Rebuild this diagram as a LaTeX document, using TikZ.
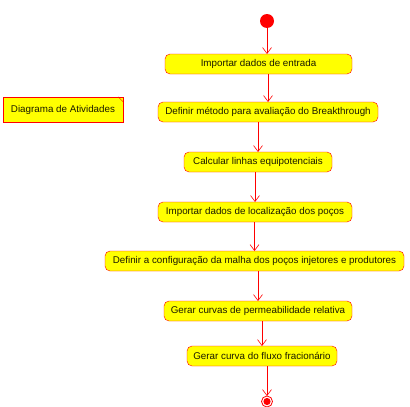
\documentclass[tikz,border=0pt]{standalone}
\usepackage{fontspec}
\setmainfont{Liberation Sans}
\usetikzlibrary{positioning,arrows.meta}
\definecolor{ActRed}{HTML}{FF0000}
\definecolor{ActYellow}{HTML}{FFFF00}
\definecolor{ActText}{HTML}{1A1A00}

\begin{document}
\begin{tikzpicture}[x=1pt,y=-1pt,
        act/.style={draw=ActRed,rounded corners=5pt,minimum height=20pt,inner sep=2pt,outer sep=0pt,
                    fill=ActYellow,text=ActText,font=\fontsize{9.8}{11}\selectfont},
        arr/.style={-{Straight Barb[length=6pt,width=9pt]},ActRed,line width=.6pt}
      ]
        \useasboundingbox (0,0) rectangle (410,407);
        \node[circle,fill=ActRed,inner sep=0pt,outer sep=0pt,minimum size=14pt] (start) at (267,21) {};
        \node[act,minimum width=187pt,below=26pt of start,xshift=-8.5pt] (entrada) {Importar dados de entrada};
        \node[act,minimum width=220pt,below=28pt of entrada,xshift=9.5pt] (metodo) {Definir método para avaliação do Breakthrough};
        \node[act,minimum width=148pt,below=30pt of metodo,xshift=-10pt] (linhas) {Calcular linhas equipotenciais};
        \node[act,minimum width=194pt,below=30pt of linhas,xshift=-3pt] (pocos) {Importar dados de localização dos poços};
        \node[act,minimum width=299pt,below=29pt of pocos,xshift=-.5pt] (malha) {Definir a configuração da malha dos poços injetores e produtores};
        \node[act,minimum width=188pt,below=30pt of malha,xshift=3.5pt] (permeab) {Gerar curvas de permeabilidade relativa};
        \node[act,minimum width=150pt,below=25pt of permeab,xshift=4pt] (fluxo) {Gerar curva do fluxo fracionário};
        \node[circle,draw=ActRed,line width=.8pt,inner sep=0pt,outer sep=0pt,minimum size=11pt,below=30pt of fluxo,xshift=5pt] (fim) {};
        \fill[ActRed] (fim.center) circle (3.6pt);
        % nota
        \node[draw=ActRed,fill=ActYellow,text=ActText,minimum width=120pt,minimum height=25pt,
              font=\fontsize{9.8}{11}\selectfont] (nota) at (63,109.5) {Diagrama de Atividades};
        \draw[ActRed,line width=.4pt] ([xshift=-5pt]nota.north east) -- ([yshift=-5pt]nota.north east);
        \draw[arr] (start) -- (entrada.north -| start);
        \draw[arr] (entrada.south -| metodo.north) -- (metodo.north);
        \draw[arr] (metodo.south -| linhas.north) -- (linhas.north);
        \draw[arr] (linhas.south -| pocos.north) -- (pocos.north);
        \draw[arr] (pocos.south -| malha.north) -- (malha.north);
        \draw[arr] (malha.south -| permeab.north) -- (permeab.north);
        \draw[arr] (permeab.south -| fluxo.north) -- (fluxo.north);
        \draw[arr] (fluxo.south -| fim.north) -- (fim.north);
      \end{tikzpicture}
\end{document}
